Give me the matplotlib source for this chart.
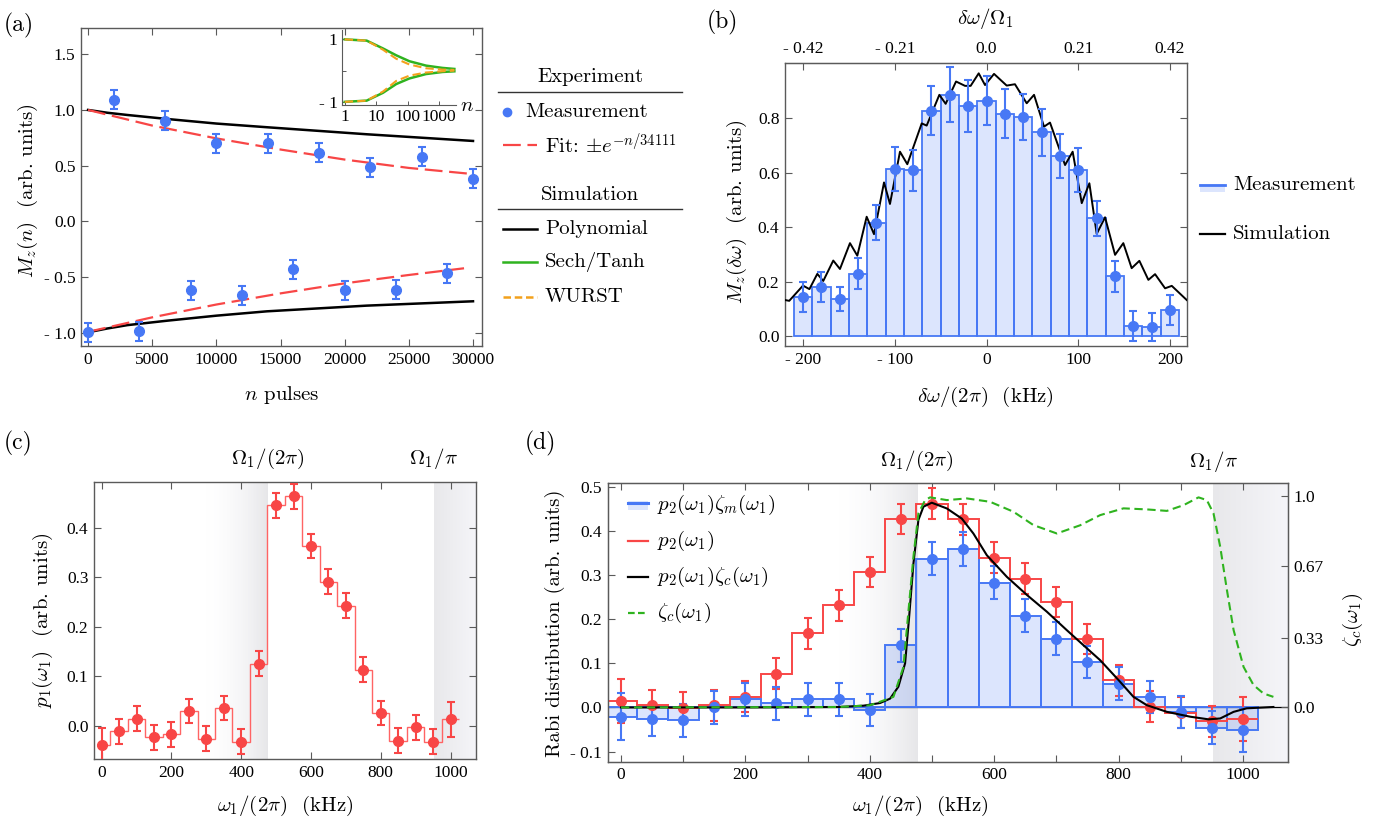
import numpy as np
import matplotlib

matplotlib.use("Agg")
import matplotlib.pyplot as plt
import matplotlib.transforms as mtransforms
from matplotlib.lines import Line2D
from matplotlib.patches import Rectangle

plt.rcParams.update({
    "font.family": ["cmr10"],
    "mathtext.fontset": "cm",
    "axes.unicode_minus": False,
    "axes.formatter.use_mathtext": True,
})

BLUE = "#4778f5"
BLUE_FILL = (0.28, 0.47, 0.96, 0.19)
RED = "#f84646"
RED_LINE = "#ff6464"
GREEN = "#2fb31f"
ORANGE = "#f3a11c"
FRAME = "#5a5a5a"
TICKFONT = "Liberation Serif"

# ---------------- (a) Mz(n) ----------------
a_n_top = [2000, 6000, 10000, 14000, 18000, 22000, 26000, 30000]
a_mz_top = [1.09, 0.904, 0.70, 0.70, 0.618, 0.484, 0.579, 0.382]
a_n_bot = [0, 4000, 8000, 12000, 16000, 20000, 24000, 28000]
a_mz_bot = [-0.994, -0.985, -0.618, -0.663, -0.427, -0.618, -0.612, -0.463]
a_err = [0.085, 0.085, 0.085, 0.085, 0.085, 0.085, 0.085, 0.085]

a_poly_n = [0, 1500, 3057, 6166, 10000, 13937, 21710, 30000]
a_poly_top = [1.0, 0.975, 0.955, 0.919, 0.878, 0.845, 0.782, 0.722]
a_poly_bot = [-0.994, -0.96, -0.93, -0.89, -0.845, -0.806, -0.755, -0.716]

a_fit_n_top = [0, 5000, 10000, 15000, 20000, 25000, 30000]
a_fit_top = [1.0, 0.86, 0.745, 0.645, 0.555, 0.48, 0.425]
a_fit_n_bot = [0, 5000, 10000, 15000, 20000, 25000, 29300]
a_fit_bot = [-0.99, -0.86, -0.745, -0.645, -0.555, -0.48, -0.42]

inset_n = [1, 5, 16.5, 43.6, 115, 390, 1300, 3100]
sech_top = [1.0, 0.96, 0.71, 0.49, 0.30, 0.16, 0.087, 0.054]
sech_bot = [-1.0, -0.96, -0.71, -0.43, -0.25, -0.11, -0.043, -0.022]
wurst_top = [1.0, 0.96, 0.67, 0.38, 0.196, 0.076, 0.033, 0.022]
wurst_bot = [-1.0, -0.96, -0.67, -0.33, -0.16, -0.06, -0.02, 0.0]

# ---------------- (b) Mz(dw) ----------------
b_dw = [-200, -180, -160, -140, -120, -100, -80, -60, -40, -20, 0,
        20, 40, 60, 80, 100, 120, 140, 160, 180, 200]
b_mz = [0.143, 0.18, 0.135, 0.228, 0.416, 0.614, 0.609, 0.827, 0.887, 0.845, 0.865,
        0.816, 0.804, 0.748, 0.662, 0.609, 0.432, 0.219, 0.037, 0.032, 0.094]
b_err = [0.055, 0.055, 0.045, 0.057, 0.065, 0.08, 0.075, 0.09, 0.1, 0.095, 0.09,
         0.09, 0.085, 0.085, 0.08, 0.08, 0.065, 0.058, 0.055, 0.052, 0.055]
b_sim_x = [-219.6, -215, -200, -193, -184.4, -177.9, -167, -159.7, -148.8, -140.8,
           -130.6, -122.6, -111.7, -105.2, -94.3, -86.3, -70.6, -65.2, -51.4, -44.5,
           -33.2, -23.4, -17.3, -8.5, -1.6, 8.2, 22, 31, 43.8, 51.8, 62.7, 69.2,
           85.6, 93.9, 103.8, 112.1, 120.1, 129.2, 140.1, 149.1, 158.2, 166.6,
           176.4, 183.7, 194.6, 201.9, 218.2]
b_sim_y = [0.132, 0.129, 0.185, 0.172, 0.228, 0.202, 0.277, 0.246, 0.341, 0.295,
           0.438, 0.374, 0.564, 0.485, 0.677, 0.631, 0.781, 0.773, 0.886, 0.853,
           0.935, 0.919, 0.919, 0.965, 0.922, 0.963, 0.92, 0.925, 0.855, 0.886,
           0.769, 0.784, 0.628, 0.677, 0.488, 0.561, 0.375, 0.436, 0.298, 0.341,
           0.249, 0.276, 0.206, 0.227, 0.175, 0.184, 0.132]
b_top_ticks = [-0.42, -0.21, 0.0, 0.21, 0.42]
b_top_labels = ["- 0.42", "- 0.21", "0.0", "0.21", "0.42"]
OMEGA1_KHZ = 476.0

# ---------------- (c) p1 ----------------
w1 = [0, 50, 100, 150, 200, 250, 300, 350, 400, 450, 500,
      550, 600, 650, 700, 750, 800, 850, 900, 950, 1000]
c_p1 = [-0.039, -0.011, 0.014, -0.023, -0.017, 0.030, -0.026, 0.036, -0.032, 0.125, 0.445,
        0.463, 0.363, 0.291, 0.242, 0.113, 0.026, -0.030, -0.003, -0.032, 0.013]
c_err = [0.035, 0.025, 0.025, 0.025, 0.025, 0.025, 0.025, 0.025, 0.025, 0.025, 0.025,
         0.025, 0.025, 0.025, 0.025, 0.025, 0.025, 0.025, 0.025, 0.025, 0.035]

# ---------------- (d) p2 ----------------
d_p2 = [0.015, 0.005, -0.001, 0.005, 0.024, 0.076, 0.168, 0.232, 0.307, 0.427, 0.462,
        0.426, 0.339, 0.292, 0.239, 0.155, 0.062, 0.002, -0.012, -0.031, -0.027]
d_p2_err = [0.05, 0.035, 0.035, 0.035, 0.035, 0.035, 0.035, 0.035, 0.035, 0.035, 0.035,
            0.035, 0.035, 0.035, 0.035, 0.035, 0.035, 0.035, 0.035, 0.035, 0.05]
d_p2zm = [-0.021, -0.027, -0.029, 0.0, 0.018, 0.009, 0.018, 0.018, -0.006, 0.141, 0.337,
          0.359, 0.283, 0.208, 0.156, 0.103, 0.054, 0.024, -0.010, -0.046, -0.051]
d_p2zm_err = [0.053, 0.038, 0.037, 0.038, 0.037, 0.037, 0.038, 0.037, 0.037, 0.037, 0.037,
              0.038, 0.037, 0.037, 0.037, 0.037, 0.037, 0.037, 0.037, 0.037, 0.05]
d_sim_x = [0, 200, 350, 390, 416.6, 432.7, 446, 456.8, 463, 470.2, 478.2, 486.3, 499.7,
           523.9, 548, 566.7, 588.2, 620.4, 652.6, 684.7, 716.9, 749.1, 770.5, 800,
           824, 845.6, 877.7, 915.2, 944.7, 963.5, 985, 1006, 1049]
d_sim_y = [0.0, 0.0, 0.001, 0.004, 0.010, 0.020, 0.047, 0.100, 0.20, 0.326, 0.425, 0.455,
           0.464, 0.451, 0.428, 0.394, 0.345, 0.296, 0.255, 0.217, 0.175, 0.134, 0.107,
           0.062, 0.024, 0.005, -0.010, -0.021, -0.027, -0.025, -0.010, -0.002, 0.001]
d_zc_x = [0, 350, 400, 416.6, 438, 454, 462, 470.2, 478.2, 489, 497, 524, 556, 593.5,
          631, 663, 700.8, 738.3, 770.5, 808, 845.6, 877.7, 904.5, 928.6, 942, 952.7,
          963.5, 974.3, 985, 1001, 1017, 1033, 1049]
d_zc = [0.0, 0.002, 0.01, 0.027, 0.05, 0.19, 0.45, 0.713, 0.918, 0.981, 0.994, 0.981,
        0.989, 0.973, 0.926, 0.863, 0.823, 0.862, 0.910, 0.942, 0.937, 0.930, 0.957,
        0.994, 0.981, 0.918, 0.760, 0.555, 0.366, 0.192, 0.106, 0.066, 0.050]
d_zc_ticks = [0.0, 0.33, 0.67, 1.0]


def tick_text(v, nd):
    s = f"{abs(v):.{nd}f}"
    return ("- " + s) if v < -1e-12 else s


def frame(ax, xt, xl, yt, yl, size=12.5):
    for sp in ax.spines.values():
        sp.set_color(FRAME)
        sp.set_linewidth(1.0)
    ax.tick_params(direction="in", length=5, width=0.8, color=FRAME,
                   top=True, right=True, labelsize=size, pad=4)
    ax.set_xticks(xt)
    ax.set_xticklabels(xl, family=TICKFONT, fontsize=size)
    ax.set_yticks(yt)
    ax.set_yticklabels(yl, family=TICKFONT, fontsize=size)


def shade(ax, x0, x1, c0, c1, ylim):
    n = 200
    t = np.linspace(0, 1, n)
    rgba = np.zeros((1, n, 4))
    for k in range(4):
        rgba[0, :, k] = c0[k] + (c1[k] - c0[k]) * t
    ax.imshow(rgba, extent=[x0, x1, ylim[0], ylim[1]], aspect="auto",
              zorder=0, interpolation="bilinear")


ebkw = dict(fmt="o", ms=7, elinewidth=1.5, capsize=2.6, capthick=1.5, zorder=5)

fig = plt.figure(figsize=(13.79, 8.21), dpi=100)
W, H = 1379.0, 821.0


def fx(px):
    return px / W


def fy(py):
    return 1 - py / H


LAB = 15
BAND_L0 = (0.98, 0.98, 0.99, 0.0)
BAND_L1 = (0.905, 0.905, 0.915, 1.0)
BAND_R0 = (0.91, 0.91, 0.92, 1.0)
BAND_R1 = (0.965, 0.965, 0.98, 1.0)

# ===== (a) =====
ax = fig.add_axes([fx(81), fy(346), fx(401), 318 / H])
ax.plot(a_poly_n, a_poly_top, color="black", lw=1.8, zorder=3)
ax.plot(a_poly_n, a_poly_bot, color="black", lw=1.8, zorder=3)
ax.plot(a_fit_n_top, a_fit_top, color=RED, lw=1.6, dashes=(8, 3), zorder=4)
ax.plot(a_fit_n_bot, a_fit_bot, color=RED, lw=1.6, dashes=(8, 3), zorder=4)
ax.errorbar(a_n_top, a_mz_top, yerr=a_err, color=BLUE, **ebkw)
ax.errorbar(a_n_bot, a_mz_bot, yerr=a_err, color=BLUE, **ebkw)
ax.set_xlim(-550, 30700)
ax.set_ylim(-1.117, 1.735)
xt = [0, 5000, 10000, 15000, 20000, 25000, 30000]
yt = [-1.0, -0.5, 0.0, 0.5, 1.0, 1.5]
frame(ax, xt, [tick_text(v, 0) for v in xt], yt, [tick_text(v, 1) for v in yt])
ax.text(0.501, -0.154, r"$n$ pulses", transform=ax.transAxes, ha="center", va="center", fontsize=LAB)
ax.text(-0.132, 0.49, r"$M_z(n)$  (arb. units)", transform=ax.transAxes, ha="center",
        va="center", rotation=90, fontsize=LAB)

ins = fig.add_axes([fx(341.7), fy(105), fx(114.3), 75 / H])
ins.set_facecolor("none")
ins.plot(inset_n, sech_top, color=GREEN, lw=1.8)
ins.plot(inset_n, sech_bot, color=GREEN, lw=1.8)
ins.plot(inset_n, wurst_top, color=ORANGE, lw=1.5, dashes=(4, 2))
ins.plot(inset_n, wurst_bot, color=ORANGE, lw=1.5, dashes=(4, 2))
ins.set_xscale("log")
ins.set_xlim(0.8, 3500)
ins.set_ylim(-1.1, 1.3)
for s in ("top", "right"):
    ins.spines[s].set_visible(False)
for s in ("left", "bottom"):
    ins.spines[s].set_color(FRAME)
ins.tick_params(direction="in", length=3, width=0.7, color=FRAME, pad=3)
ins.tick_params(axis="x", which="minor", length=0)
ins.set_xticks([1, 10, 100, 1000])
ins.set_xticklabels(["1", "10", "100", "1000"], family=TICKFONT, fontsize=12.5)
ins.set_yticks([-1, 0, 1])
ins.set_yticklabels(["- 1", "", "1"], family=TICKFONT, fontsize=12.5)
fig.text(fx(467), fy(106), r"$n$", fontsize=15, ha="center", va="center")


# legend (a), drawn in figure pixels
def fig_line(x0, x1, y, **kw):
    fig.add_artist(Line2D([fx(x0), fx(x1)], [fy(y), fy(y)], transform=fig.transFigure, **kw))


fig.text(fx(590), fy(77), "Experiment", ha="center", va="center", fontsize=LAB)
fig_line(498, 682, 92, color="#333333", lw=1.0)
fig.add_artist(Line2D([fx(507)], [fy(112)], transform=fig.transFigure, marker="o",
                      ms=6, color=BLUE, lw=0))
fig.text(fx(525), fy(112), "Measurement", ha="left", va="center", fontsize=LAB)
fig_line(503, 537, 145, color=RED, lw=1.6, dashes=(8, 3))
fig.text(fx(545), fy(145), r"Fit: $\pm e^{-n/34111}$", ha="left", va="center", fontsize=LAB)
fig.text(fx(590), fy(195), "Simulation", ha="center", va="center", fontsize=LAB)
fig_line(498, 682, 209, color="#333333", lw=1.0)
for yy, lab, col, ds in [(229, "Polynomial", "black", None), (262, "Sech/Tanh", GREEN, None),
                         (297, "WURST", ORANGE, (3, 1.5))]:
    kw = dict(color=col, lw=1.8)
    if ds:
        kw["dashes"] = ds
    fig_line(503, 537, yy, **kw)
    fig.text(fx(545), fy(yy), lab, ha="left", va="center", fontsize=LAB)

# ===== (b) =====
ax = fig.add_axes([fx(785), fy(346), fx(402), 283 / H])
ax.bar(b_dw, b_mz, width=20, color=BLUE_FILL, edgecolor=BLUE, linewidth=1.3, zorder=2)
ax.plot(b_sim_x, b_sim_y, color="black", lw=1.4, zorder=4, solid_joinstyle="round")
ax.errorbar(b_dw, b_mz, yerr=b_err, color=BLUE, **ebkw)
ax.set_xlim(-219.6, 218.5)
ax.set_ylim(-0.037, 1.003)
xt = [-200, -100, 0, 100, 200]
yt = [0.0, 0.2, 0.4, 0.6, 0.8]
frame(ax, xt, [tick_text(v, 0) for v in xt], yt, [tick_text(v, 1) for v in yt])
ax.tick_params(top=False)
sec = ax.secondary_xaxis("top", functions=(lambda x: x / OMEGA1_KHZ, lambda x: x * OMEGA1_KHZ))
sec.set_xticks(b_top_ticks)
sec.set_xticklabels(b_top_labels, family=TICKFONT, fontsize=12.5)
sec.tick_params(direction="in", length=5, width=0.8, color=FRAME, pad=4)
sec.spines["top"].set_color(FRAME)
ax.text(0.4975, -0.18, r"$\delta\omega/(2\pi)$  (kHz)", transform=ax.transAxes,
        ha="center", va="center", fontsize=LAB)
ax.text(0.4975, 1.159, r"$\delta\omega/\Omega_1$", transform=ax.transAxes,
        ha="center", va="center", fontsize=LAB)
ax.text(-0.119, 0.473, r"$M_z(\delta\omega)$  (arb. units)", transform=ax.transAxes,
        ha="center", va="center", rotation=90, fontsize=LAB)
fig.add_artist(Rectangle((fx(1200), fy(192)), fx(25), 8 / H, transform=fig.transFigure,
                         facecolor=BLUE_FILL, edgecolor="none"))
fig_line(1200, 1225, 185, color=BLUE, lw=2.0)
fig.text(fx(1233), fy(185), "Measurement", ha="left", va="center", fontsize=LAB)
fig_line(1200, 1225, 234, color="black", lw=1.6)
fig.text(fx(1233), fy(234), "Simulation", ha="left", va="center", fontsize=LAB)

# ===== (c) =====
ax = fig.add_axes([fx(94), fy(759), fx(382), 277 / H])
ylim_c = (-0.067, 0.492)
shade(ax, 300, OMEGA1_KHZ, BAND_L0, BAND_L1, ylim_c)
shade(ax, 2 * OMEGA1_KHZ, 1080, BAND_R0, BAND_R1, ylim_c)
edges = np.concatenate([[w1[0]], np.array(w1[1:]) - 25, [w1[-1] + 25]])
ax.stairs(c_p1, edges, baseline=None, color=RED_LINE, lw=1.0, zorder=3)
ax.errorbar(w1, c_p1, yerr=c_err, color=RED, **ebkw)
ax.set_xlim(-22, 1073)
ax.set_ylim(*ylim_c)
xt = [0, 200, 400, 600, 800, 1000]
yt = [0.0, 0.1, 0.2, 0.3, 0.4]
frame(ax, xt, [tick_text(v, 0) for v in xt], yt, [tick_text(v, 1) for v in yt])
ax.text(0.5, -0.17, r"$\omega_1/(2\pi)$  (kHz)", transform=ax.transAxes,
        ha="center", va="center", fontsize=LAB)
ax.text(-0.134, 0.50, r"$p_1(\omega_1)$  (arb. units)", transform=ax.transAxes,
        ha="center", va="center", rotation=90, fontsize=LAB)
tr = mtransforms.blended_transform_factory(ax.transData, ax.transAxes)
ax.text(OMEGA1_KHZ, 1.085, r"$\Omega_1/(2\pi)$", transform=tr, ha="center", va="center", fontsize=LAB)
ax.text(2 * OMEGA1_KHZ, 1.085, r"$\Omega_1/\pi$", transform=tr, ha="center", va="center", fontsize=LAB)

# ===== (d) =====
ax = fig.add_axes([fx(607.7), fy(761.7), fx(680), 278.4 / H])
ylim_d = (-0.123, 0.508)
shade(ax, 350, OMEGA1_KHZ, BAND_L0, BAND_L1, ylim_d)
shade(ax, 2 * OMEGA1_KHZ, 1080, BAND_R0, BAND_R1, ylim_d)
ax.axhline(0, color="black", lw=0.9, zorder=2)
ax.bar(w1, d_p2zm, width=50, color=BLUE_FILL, edgecolor=BLUE, linewidth=1.4, zorder=2)
d_edges = np.concatenate([np.array(w1) - 25, [w1[-1] + 25]])
ax.stairs(d_p2, d_edges, baseline=None, color=RED, lw=1.4, zorder=3)
ax.plot(d_sim_x, d_sim_y, color="black", lw=1.5, zorder=6)
ax.errorbar(w1, d_p2, yerr=d_p2_err, color=RED, **ebkw)
ax.errorbar(w1, d_p2zm, yerr=d_p2zm_err, color=BLUE, **ebkw)
ax.set_xlim(-21.4, 1072)
ax.set_ylim(*ylim_d)
xt = [0, 100, 200, 300, 400, 500, 600, 700, 800, 900, 1000]
xl = [tick_text(v, 0) if v % 200 == 0 else "" for v in xt]
yt = [-0.1, 0.0, 0.1, 0.2, 0.3, 0.4, 0.5]
frame(ax, xt, xl, yt, [tick_text(v, 1) for v in yt])
ax.tick_params(right=False)
ax2 = ax.twinx()
ax2.plot(d_zc_x, d_zc, color=GREEN, lw=1.5, dashes=(4, 2.2), zorder=7)
ax2.set_ylim(ylim_d[0] / 0.479, ylim_d[1] / 0.479)
ax2.set_yticks(d_zc_ticks)
ax2.set_yticklabels([f"{v:.2f}" if v not in (0.0, 1.0) else f"{v:.1f}" for v in d_zc_ticks],
                    family=TICKFONT, fontsize=12.5)
ax2.tick_params(direction="in", length=5, width=0.8, color=FRAME, pad=4)
for sp in ax2.spines.values():
    sp.set_color(FRAME)
ax.text(0.459, -0.159, r"$\omega_1/(2\pi)$  (kHz)", transform=ax.transAxes,
        ha="center", va="center", fontsize=LAB)
ax.text(-0.0775, 0.498, "Rabi distribution (arb. units)", transform=ax.transAxes,
        ha="center", va="center", rotation=90, fontsize=LAB)
ax.text(1.096, 0.509, r"$\zeta_c(\omega_1)$", transform=ax.transAxes,
        ha="center", va="center", rotation=90, fontsize=LAB)
tr = mtransforms.blended_transform_factory(ax.transData, ax.transAxes)
ax.text(OMEGA1_KHZ, 1.08, r"$\Omega_1/(2\pi)$", transform=tr, ha="center", va="center", fontsize=LAB)
ax.text(2 * OMEGA1_KHZ, 1.08, r"$\Omega_1/\pi$", transform=tr, ha="center", va="center", fontsize=LAB)

# legend (d) in figure pixels
leg = [(505, "blue", r"$p_2(\omega_1)\zeta_m(\omega_1)$"),
       (541, "red", r"$p_2(\omega_1)$"),
       (577, "black", r"$p_2(\omega_1)\zeta_c(\omega_1)$"),
       (613, "green", r"$\zeta_c(\omega_1)$")]
for yy, kind, lab in leg:
    if kind == "blue":
        fig.add_artist(Rectangle((fx(628), fy(510)), fx(20), 9 / H, transform=fig.transFigure,
                                 facecolor=BLUE_FILL, edgecolor="none", zorder=10))
        fig_line(628, 648, 503, color=BLUE, lw=2.2, zorder=10)
    elif kind == "red":
        fig_line(628, 648, yy, color=RED, lw=1.6, zorder=10)
    elif kind == "black":
        fig_line(628, 648, yy, color="black", lw=1.6, zorder=10)
    else:
        fig_line(628, 648, yy, color=GREEN, lw=1.6, dashes=(3, 1.5), zorder=10)
    fig.text(fx(657), fy(yy), lab, ha="left", va="center", fontsize=LAB, zorder=10)

# panel letters
fig.text(fx(4), fy(25), "(a)", ha="left", va="center", fontsize=17)
fig.text(fx(707), fy(22), "(b)", ha="left", va="center", fontsize=17)
fig.text(fx(4), fy(443), "(c)", ha="left", va="center", fontsize=17)
fig.text(fx(525), fy(443), "(d)", ha="left", va="center", fontsize=17)

fig.savefig("out.png", dpi=100)
